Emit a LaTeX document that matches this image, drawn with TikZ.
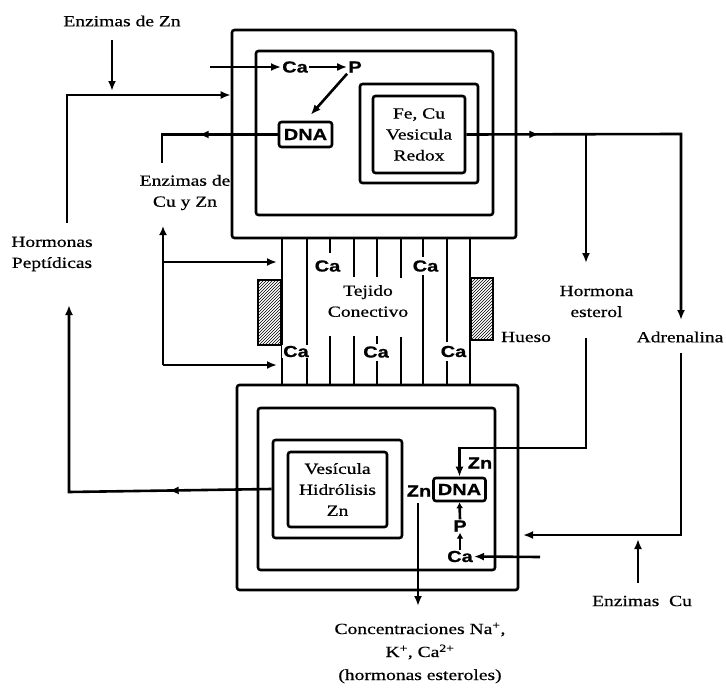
\documentclass[tikz,border=0pt]{standalone}
\usepackage{fontspec}
\setmainfont{Liberation Serif}
\newfontfamily\lab[FakeStretch=1.26,FakeBold=0.6]{Liberation Serif}
\newfontfamily\chemf[FakeStretch=1.25,FakeBold=0.8]{Liberation Sans}
\usetikzlibrary{arrows.meta,decorations.markings,patterns}
\begin{document}
\begin{tikzpicture}[x=1pt,y=-1pt,
  box/.style={draw, line width=2.6pt, rounded corners=2.5pt, inner sep=0pt},
  txt/.style={font=\lab\fontsize{15.5}{21}\selectfont, align=center, inner sep=0pt},
  chem/.style={font=\chemf\bfseries\fontsize{16}{18}\selectfont, inner sep=1pt},
  conn/.style={line width=2.6pt},
  tip/.style={-{Latex[length=10pt,width=8pt]}},
  smalltip/.style={-{Latex[length=6pt,width=7pt]}},
  midtip/.style={postaction={decorate}, decoration={markings, mark=at position #1 with {\arrow{Latex[length=10pt,width=8pt]}}}},
  col/.style={line width=2pt},
  bone/.style={draw, line width=2.4pt, pattern=north east lines}
]
\useasboundingbox (0,0) rectangle (726,688);

% ---------- boxes ----------
\node[box, minimum width=284pt, minimum height=208pt] (topouter) at (374,134) {};
\node[box, minimum width=237pt, minimum height=164pt] (topmid) at (374.5,133) {};
\node[box, minimum width=118pt, minimum height=99pt] (redoxout) at (419,133.5) {};
\node[box, txt, minimum width=92pt, minimum height=77pt] (redoxin) at (419,134.5) {Fe, Cu\\Vesicula\\Redox};
\node[box, chem, minimum width=53pt, minimum height=25pt] (dnatop) at (305.5,134.5) {DNA};

\node[box, minimum width=281pt, minimum height=205pt] (botouter) at (377.5,487.5) {};
\node[box, minimum width=237pt, minimum height=162pt] (botmid) at (376.5,489) {};
\node[box, minimum width=129pt, minimum height=98pt] (hydout) at (337.5,489) {};
\node[box, txt, minimum width=99pt, minimum height=75pt] (hydin) at (337.5,489.5) {Vesícula\\Hidrólisis\\Zn};
\node[box, chem, minimum width=52pt, minimum height=23pt] (dnabot) at (459.5,489.5) {DNA};

% ---------- connective tissue ----------
\foreach \x in {282,307,470} \draw[col] (\x,238) -- (\x,385);
\draw[col] (330,238) -- (330,253) (330,336) -- (330,385);
\draw[col] (354,238) -- (354,277) (354,336) -- (354,385);
\draw[col] (377,238) -- (377,277) (377,336) -- (377,344) (377,361) -- (377,385);
\draw[col] (401,238) -- (401,278) (401,337) -- (401,385);
\draw[col] (423,238) -- (423,257) (423,275) -- (423,385);
\draw[col] (447,238) -- (447,342) (447,361) -- (447,385);

\node[chem, fill=white] (caT1) at (327.5,266) {Ca};
\node[chem, fill=white] (caT2) at (425.5,266) {Ca};
\node[chem, fill=white] (caB1) at (296,351.5) {Ca};
\node[chem, fill=white] (caB2) at (376,352) {Ca};
\node[chem, fill=white] (caB3) at (453.5,351.5) {Ca};
\node[txt] (tejido) at (368,301) {Tejido\\Conectivo};

\draw[bone] (258,280) rectangle (281,345);
\draw[bone] (471,278) rectangle (493,340);
\node[txt] (hueso) at (526,337) {Hueso};

% ---------- top cell contents ----------
\node[chem] (caT) at (295,67) {Ca};
\node[chem] (pT) at (355,67) {P};
\coordinate (caIn) at (210,67);
\draw[conn,tip] (caIn) -- (caT.west);
\draw[conn,tip] (caT.east) -- (pT.west);
\draw[conn,tip,shorten >=8pt] (pT.south west) -- (dnatop.north);

% ---------- left side ----------
\node[txt] (ezn) at (122,21) {Enzimas de Zn};
\coordinate (eznA) at (112,40);
\coordinate (eznB) at (112,91);
\draw[conn,tip] (eznA) -- (eznB);
\coordinate (lpTop) at (67,95);
\coordinate (lpBot) at (67,223);
\draw[conn,tip] (lpBot) -- (lpTop) -- (lpTop -| topouter.west);

\node[txt] (hpep) at (52,254) {Hormonas\\Peptídicas};
\coordinate (hpArr) at (69,305);
\coordinate (hpCorner) at (69,492);
\draw[conn,midtip=103pt,tip] (hydout.west) -- (hpCorner) -- (hpArr);

\coordinate (ecuTop) at (162,163);
\draw[conn,midtip=79pt] (dnatop.west) -- (dnatop.west -| ecuTop) -- (ecuTop);
\node[txt] (ecuzn) at (185,192.5) {Enzimas de\\Cu y Zn};
\coordinate (ecuA) at (163,226);
\coordinate (ecuM) at (163,262);
\coordinate (ecuB) at (163,365);
\coordinate (tisL1) at (277,262);
\coordinate (tisL2) at (277,365);
\draw[conn,{Latex[length=9pt,width=8pt]}-] (ecuA) -- (ecuB);
\draw[conn,tip] (ecuM) -- (tisL1);
\draw[conn,tip] (ecuB) -- (tisL2);

% ---------- right side ----------
\coordinate (adrTop) at (681,134);
\coordinate (adrArr) at (681,320);
\draw[conn,midtip=73pt,tip] (redoxin.east) -- (adrTop) -- (adrArr);
\node[txt] (adr) at (680,337) {Adrenalina};
\coordinate (adrB) at (681,353);
\coordinate (adrC) at (681,535);
\coordinate (adrEnd) at (523,535);
\draw[conn,tip] (adrB) -- (adrC) -- (adrEnd);

\coordinate (hsTop) at (586,134);
\coordinate (hsArr) at (586,263);
\draw[conn,tip] (hsTop) -- (hsArr);
\node[txt] (hest) at (596.5,301.5) {Hormona\\esterol};
\coordinate (hsB) at (586,338);
\coordinate (hsC) at (586,448);
\draw[conn,tip] (hsB) -- (hsC) -- (hsC -| dnabot.north) -- (dnabot.north);

\node[txt] (enzcu) at (642,601) {Enzimas\ \ Cu};
\coordinate (ecuuA) at (638,583);
\coordinate (ecuuB) at (638,539);
\draw[conn,tip] (ecuuA) -- (ecuuB);

% ---------- bottom cell contents ----------
\node[chem] (znT) at (480,463) {Zn};
\node[chem] (znB) at (419,491) {Zn};
\node[chem] (pB) at (460,526) {P};
\node[chem] (caB) at (460,556.5) {Ca};
\coordinate (caBin) at (540,557);
\draw[conn,tip] (caBin) -- (caB.east);
\draw[conn,smalltip] (caB.north) -- (pB.south);
\draw[conn,smalltip] (pB.north) -- (dnabot.south);

\coordinate (znBtop) at (418,503);
\coordinate (concTop) at (418,606);
\draw[conn,tip] (znBtop) -- (concTop);
\node[txt, font=\lab\fontsize{15.5}{23}\selectfont] (conc) at (420,653) {Concentraciones Na\textsuperscript{+},\\K\textsuperscript{+}, Ca\textsuperscript{2+}\\(hormonas esteroles)};
\end{tikzpicture}
\end{document}
